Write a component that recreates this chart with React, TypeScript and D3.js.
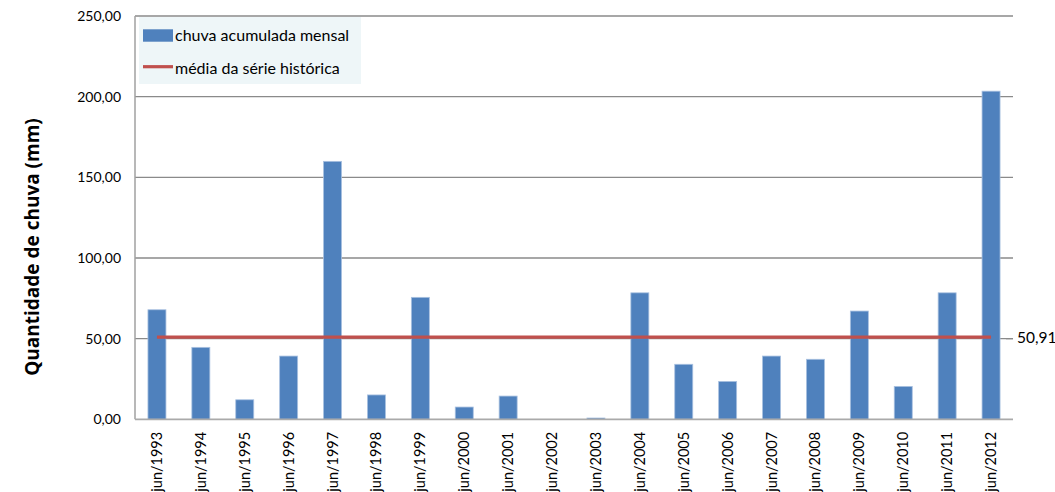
import React, { useEffect, useRef } from 'react';
import * as d3 from 'd3';

const years = ['1993', '1994', '1995', '1996', '1997', '1998', '1999', '2000', '2001', '2002',
  '2003', '2004', '2005', '2006', '2007', '2008', '2009', '2010', '2011', '2012'];
const categories = years.map(y => `jun/${y}`);
const rainfall = [67.9, 44.6, 12.1, 39.2, 159.9, 15.1, 75.6, 7.6, 14.4, 0,
  0.8, 78.4, 34.1, 23.5, 39.2, 37.2, 67.1, 20.4, 78.4, 203.4];
const seriesMean = 50.91;
const yTicks = [0, 50, 100, 150, 200, 250];
const legendLabels = ['chuva acumulada mensal', 'média da série histórica'];

const fmt = (v: number) => v.toFixed(2).replace('.', ',');

const App: React.FC = () => {
  const svgRef = useRef<SVGSVGElement>(null);

  useEffect(() => {
    if (!svgRef.current) return;
    const svg = d3.select(svgRef.current);
    svg.selectAll('*').remove();

    const margin = { left: 135, right: 1013, top: 16, bottom: 419.3 };
    const font = 'Lato, "Open Sans", sans-serif';

    const x = d3.scaleBand<string>()
      .domain(categories)
      .range([margin.left, margin.right])
      .paddingInner(0.59)
      .paddingOuter(0.295);

    const y = d3.scaleLinear()
      .domain([0, 250])
      .range([margin.bottom, margin.top]);

    // gridlines
    svg.append('g')
      .selectAll('line')
      .data(yTicks.filter(t => t > 0))
      .join('line')
      .attr('x1', margin.left)
      .attr('x2', margin.right)
      .attr('y1', d => y(d))
      .attr('y2', d => y(d))
      .attr('stroke', '#8a8a8a')
      .attr('stroke-width', 1.3);

    // y tick labels
    svg.append('g')
      .selectAll('text')
      .data(yTicks)
      .join('text')
      .attr('x', 121)
      .attr('y', d => y(d) + 5)
      .attr('text-anchor', 'end')
      .style('font-family', font)
      .style('font-size', '14px')
      .style('fill', '#000')
      .text(d => fmt(d));

    // bars
    svg.append('g')
      .selectAll('rect')
      .data(rainfall)
      .join('rect')
      .attr('x', (_, i) => x(categories[i])!)
      .attr('y', d => y(d))
      .attr('width', x.bandwidth())
      .attr('height', d => y(0) - y(d))
      .attr('fill', '#4f81bd')
      .attr('stroke', d => (d > 0 ? '#a9c1e0' : 'none'))
      .attr('stroke-width', 0.8);

    // axes lines
    svg.append('line')
      .attr('x1', margin.left).attr('x2', margin.left)
      .attr('y1', margin.top).attr('y2', margin.bottom)
      .attr('stroke', '#a0a0a0').attr('stroke-width', 1.5);
    svg.append('line')
      .attr('x1', margin.left).attr('x2', margin.right)
      .attr('y1', margin.bottom).attr('y2', margin.bottom)
      .attr('stroke', '#aaaaaa').attr('stroke-width', 1.8);

    // mean line
    const first = categories[0];
    const last = categories[categories.length - 1];
    svg.append('line')
      .attr('x1', x(first)! + x.bandwidth() / 2)
      .attr('x2', x(last)! + x.bandwidth() / 2)
      .attr('y1', y(seriesMean))
      .attr('y2', y(seriesMean))
      .attr('stroke', '#c0504d')
      .attr('stroke-width', 3.2);

    // mean label on right
    svg.append('line')
      .attr('x1', margin.right - 7).attr('x2', margin.right)
      .attr('y1', y(50)).attr('y2', y(50))
      .attr('stroke', '#8a8a8a').attr('stroke-width', 1.3);
    svg.append('text')
      .attr('x', 1017)
      .attr('y', y(seriesMean) + 6)
      .style('font-family', font)
      .style('font-size', '15.5px')
      .style('fill', '#000')
      .text(fmt(seriesMean));

    // x labels
    svg.append('g')
      .selectAll('text')
      .data(categories)
      .join('text')
      .attr('transform', d => `translate(${x(d)! + x.bandwidth() / 2 + 5},${margin.bottom + 12.5}) rotate(-90)`)
      .attr('text-anchor', 'end')
      .style('font-family', font)
      .style('font-size', '14.5px')
      .style('fill', '#000')
      .text(d => d);

    // y axis title
    svg.append('text')
      .attr('transform', `translate(39,247) rotate(-90)`)
      .attr('text-anchor', 'middle')
      .style('font-family', '"Open Sans", sans-serif')
      .style('font-size', '19px')
      .style('font-weight', 'bold')
      .style('fill', '#000')
      .text('Quantidade de chuva (mm)');

    // legend
    const lg = svg.append('g');
    lg.append('rect')
      .attr('x', 139).attr('y', 17)
      .attr('width', 222).attr('height', 67)
      .attr('fill', '#eef6f8');
    lg.append('rect')
      .attr('x', 143).attr('y', 29.3)
      .attr('width', 30).attr('height', 12.4)
      .attr('fill', '#4f81bd');
    lg.append('line')
      .attr('x1', 143).attr('x2', 173)
      .attr('y1', 66.7).attr('y2', 66.7)
      .attr('stroke', '#c0504d').attr('stroke-width', 3.2);
    lg.selectAll('text.leg')
      .data(legendLabels)
      .join('text')
      .attr('class', 'leg')
      .attr('x', 175)
      .attr('y', (_, i) => 41 + i * 33)
      .style('font-family', font)
      .style('font-size', '16px')
      .style('fill', '#000')
      .text(d => d);
  }, []);

  return (
    <svg
      ref={svgRef}
      width={1055}
      height={492}
      style={{ position: 'absolute', left: 0, top: 0, background: '#fff', display: 'block' }}
    />
  );
};

export default App;
